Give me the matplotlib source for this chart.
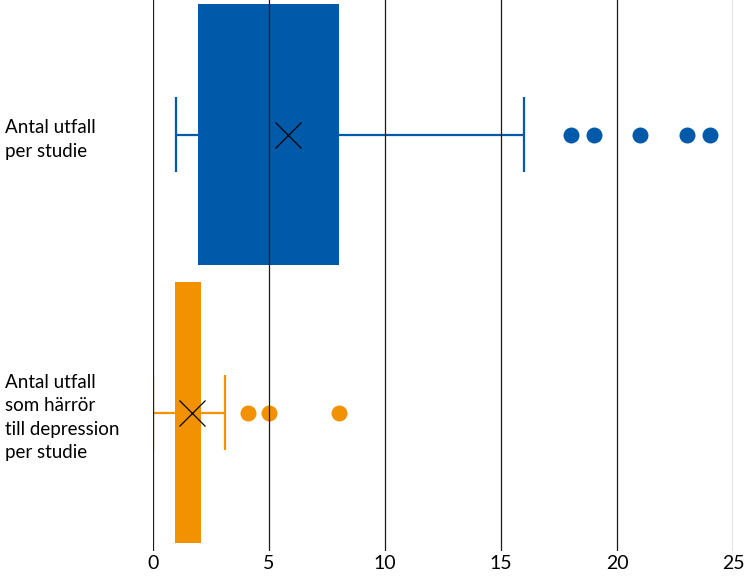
import matplotlib.pyplot as plt
import matplotlib.transforms as mtransforms

# box plot values
labels = ['Antal utfall\nper studie', 'Antal utfall\nsom härrör\ntill depression\nper studie']
ypos = [1, 0]
q1 = [1.95, 0.95]
q3 = [8, 2.05]
whislo = [1, 0]
whishi = [16.0, 3.1]
means = [5.8, 1.7]
fliers = [[18, 19, 21, 23, 24], [4.1, 5, 8]]
colors = ['#005AA9', '#F39200']
xticks = [0, 5, 10, 15, 20, 25]

plt.rcParams['font.family'] = ['Lato', 'DejaVu Sans']

fig = plt.figure(figsize=(7.5, 5.77), dpi=100)
ax = fig.add_axes([153 / 750, 1 - 551 / 577, 580 / 750, 551 / 577])

box_h = 0.94
cap_h = 0.27
for i in range(len(ypos)):
    y = ypos[i]
    c = colors[i]
    ax.barh(y, q3[i] - q1[i], left=q1[i], height=box_h, color=c, zorder=2)
    ax.hlines(y, whislo[i], q1[i], color=c, lw=1.6, zorder=2)
    ax.hlines(y, q3[i], whishi[i], color=c, lw=1.6, zorder=2)
    ax.vlines([whislo[i], whishi[i]], y - cap_h / 2, y + cap_h / 2, color=c, lw=1.6, zorder=2)
    ax.plot(fliers[i], [y] * len(fliers[i]), 'o', color=c, ms=11.5, mec='none', zorder=3)
    ax.plot(means[i], y, 'x', color='black', ms=19, mew=0.9, zorder=4)

for t in xticks:
    ax.axvline(t, color='#1a1a1a', lw=0.9, zorder=3)

ax.set_xlim(0, 25)
ax.set_ylim(-0.498, 1.484)
ax.set_xticks(xticks)
ax.set_yticks([])
ax.tick_params(axis='x', length=0, pad=3, labelsize=14)
for s in ax.spines.values():
    s.set_visible(False)
ax.patch.set_visible(False)

# labels sit a little below the box centre in the original
trans = mtransforms.blended_transform_factory(fig.transFigure, ax.transData) + \
    mtransforms.ScaledTranslation(0, -5 / 100, fig.dpi_scale_trans)
for i in range(len(labels)):
    ax.text(5 / 750, ypos[i], labels[i], transform=trans, ha='left', va='center',
            fontsize=13.5, linespacing=1.45)

fig.savefig('out.png', dpi=100)
